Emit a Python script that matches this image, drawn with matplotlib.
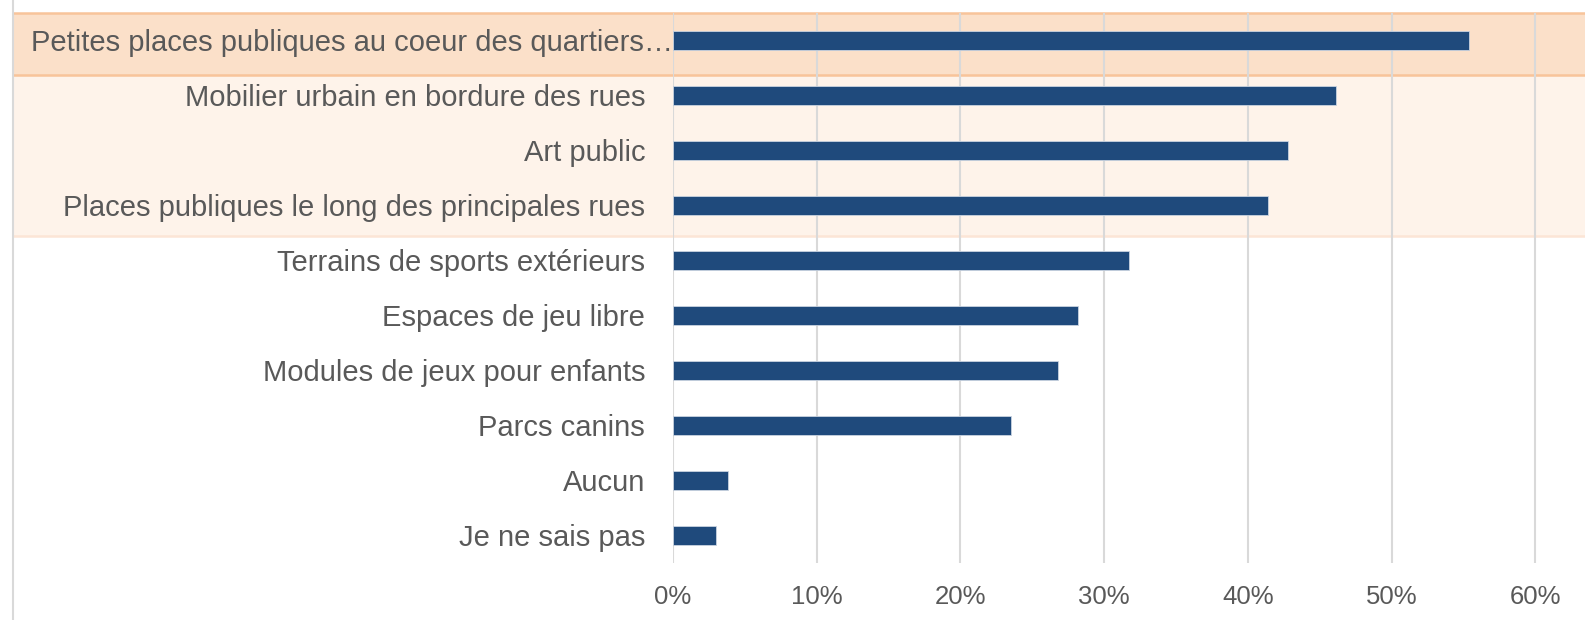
import matplotlib

matplotlib.use("Agg")
import matplotlib.pyplot as plt
from matplotlib.patches import Rectangle
from matplotlib.lines import Line2D
from matplotlib.transforms import blended_transform_factory

plt.rcParams["font.family"] = ["Liberation Sans", "DejaVu Sans"]

# survey answers, share of respondents (top row first)
categories = [
    "Petites places publiques au coeur des quartiers…",
    "Mobilier urbain en bordure des rues",
    "Art public",
    "Places publiques le long des principales rues",
    "Terrains de sports extérieurs",
    "Espaces de jeu libre",
    "Modules de jeux pour enfants",
    "Parcs canins",
    "Aucun",
    "Je ne sais pas",
]
shares = [0.554, 0.461, 0.428, 0.414, 0.317, 0.282, 0.268, 0.235, 0.038, 0.030]
xticks = [0.0, 0.1, 0.2, 0.3, 0.4, 0.5, 0.6]
xtick_labels = ["0%", "10%", "20%", "30%", "40%", "50%", "60%"]

BAR = "#1F4A7C"
GRID = "#D9D9D9"
TXT = "#595959"

W, H = 1585, 620
fig = plt.figure(figsize=(W / 100, H / 100), dpi=100)
ax = fig.add_axes([673 / W, 1 - 563 / H, 1 - 673 / W, (563 - 12.8) / H])

y = list(range(len(categories)))
ax.barh(y, shares, height=0.35, color=BAR, edgecolor="#C9D3E0", linewidth=0.6, zorder=3)
ax.set_ylim(len(categories) - 0.5, -0.5)
ax.set_xlim(0, 0.6346)

ax.set_yticks(y)
ax.set_yticklabels(categories, fontsize=21, color=TXT)
ax.set_xticks(xticks)
ax.set_xticklabels(xtick_labels, fontsize=18.5, color=TXT)
ax.tick_params(axis="both", length=0)
ax.tick_params(axis="y", pad=20)
ax.tick_params(axis="x", pad=16)
ax.yaxis.get_major_ticks()[0].set_pad(0)  # the truncated label runs right up to its bar

ax.set_axisbelow(True)
ax.grid(axis="x", color=GRID, lw=1.5)
for s in ax.spines.values():
    s.set_visible(False)

# highlight bands behind the first rows, running out under the labels
tr = blended_transform_factory(ax.transAxes, ax.transData)
x0 = (13 - 673) / (W - 673)
ax.add_patch(Rectangle((x0, -0.5), 1 - x0, 1.125, transform=tr, clip_on=False,
                       facecolor="#FBE0C9", edgecolor="none", zorder=0.1))
ax.add_patch(Rectangle((x0, 0.625), 1 - x0, 2.94, transform=tr, clip_on=False,
                       facecolor="#FEF3EA", edgecolor="none", zorder=0.1))
for yy, c in [(-0.5, "#F8C49A"), (0.625, "#F8C49A"), (3.565, "#FCE5D6")]:
    ax.add_line(Line2D([x0, 1], [yy, yy], transform=tr, color=c, lw=1.8,
                       clip_on=False, zorder=0.2))

# frame line at the far left
fig.add_artist(Line2D([13 / W, 13 / W], [0, 1], color=GRID, lw=1.5))

fig.savefig("out.png", dpi=100)
